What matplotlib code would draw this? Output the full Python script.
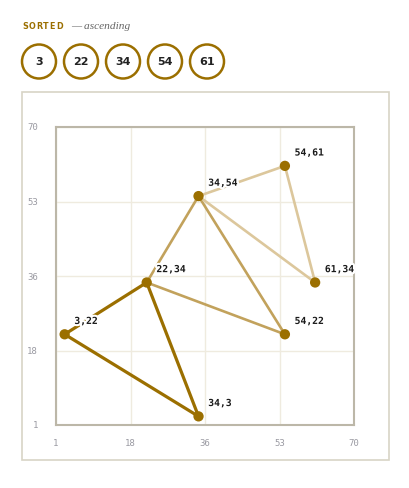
import matplotlib
matplotlib.use("Agg")
import matplotlib.pyplot as plt
import matplotlib.patheffects as pe
from matplotlib.patches import Circle, Rectangle
import numpy as np

# sorted values shown in the header
values = [3, 22, 34, 54, 61]

# three triangles of (x, y) points, darkest first
tri_a = [(3, 22), (22, 34), (34, 3)]
tri_b = [(22, 34), (34, 54), (54, 22)]
tri_c = [(34, 54), (54, 61), (61, 34)]
tri_colors = ["#9b6f00", "#c2a25c", "#dcc79c"]
tri_widths = [2.3, 1.9, 1.9]

ticks = np.linspace(1, 70, 5)
tick_labels = ["1", "18", "36", "53", "70"]

W, H = 410, 488
fig = plt.figure(figsize=(W / 100, H / 100), dpi=100)
fig.patch.set_facecolor("white")

# overlay in pixel coords for header and panel border
bg = fig.add_axes([0, 0, 1, 1], zorder=0)
bg.set_xlim(0, W)
bg.set_ylim(H, 0)
bg.axis("off")
bg.add_patch(Rectangle((22, 92), 367, 368, fill=False, edgecolor="#d8d4c6", lw=1.2))

# title with letter spacing
for i, ch in enumerate("SORTED"):
    bg.text(22 + i * 6.9, 29, ch, fontsize=5.8, fontweight="bold", color="#9b6f00",
            ha="left", va="baseline", family="DejaVu Sans")
bg.text(71, 29, "— ascending", fontsize=8.2, style="italic", color="#666666",
        ha="left", va="baseline", family="Liberation Serif")

for i, v in enumerate(values):
    cx = 39 + i * 42
    bg.add_patch(Circle((cx, 61.5), 17, fill=False, edgecolor="#9b6f00", lw=1.8))
    bg.text(cx, 62, str(v), fontsize=8, fontweight="bold", color="#222222",
            ha="center", va="center", family="DejaVu Sans")

ax = fig.add_axes([56 / W, (H - 425) / H, 298 / W, 298 / H], zorder=1)
ax.set_xlim(1, 70)
ax.set_ylim(1, 70)
ax.set_xticks(ticks)
ax.set_yticks(ticks)
ax.set_xticklabels(tick_labels)
ax.set_yticklabels(tick_labels)
ax.tick_params(length=0, labelsize=6.5, colors="#9a9aa2", labelfontfamily="DejaVu Sans Mono")
ax.tick_params(axis="x", pad=10)
ax.tick_params(axis="y", pad=13)
ax.grid(True, color="#efebdf", lw=1)
for s in ax.spines.values():
    s.set_color("#bcb7a8")
    s.set_linewidth(1.5)

for tri, c, w in zip([tri_a, tri_b, tri_c], tri_colors, tri_widths):
    xs = [p[0] for p in tri] + [tri[0][0]]
    ys = [p[1] for p in tri] + [tri[0][1]]
    ax.plot(xs, ys, color=c, lw=w, solid_capstyle="round", zorder=2)

pts = []
for tri in [tri_a, tri_b, tri_c]:
    for p in tri:
        if p not in pts:
            pts.append(p)

ax.scatter([p[0] for p in pts], [p[1] for p in pts], s=55, color="#9b6f00", zorder=3,
           edgecolors="none", clip_on=False)
for x, y in pts:
    ax.annotate(f"{x},{y}", (x, y), xytext=(7, 6), textcoords="offset points",
                fontsize=7, fontweight="bold", family="DejaVu Sans Mono", color="#1a1a1a",
                ha="left", va="bottom", zorder=4,
                path_effects=[pe.withStroke(linewidth=3, foreground="white")])

fig.savefig("out.png", dpi=100, facecolor="white")
